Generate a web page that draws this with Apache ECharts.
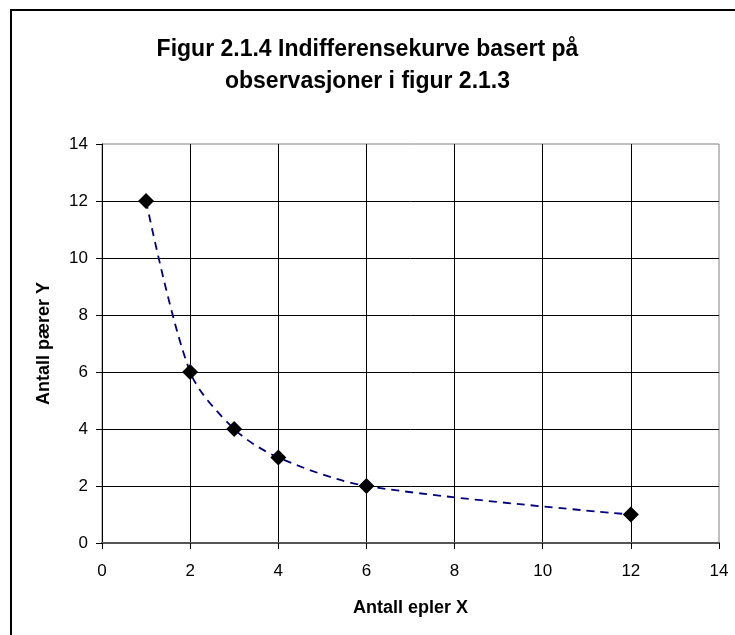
<!DOCTYPE html>
<html>
<head>
<meta charset="utf-8">
<script src="https://cdn.jsdelivr.net/npm/echarts@6/dist/echarts.min.js"></script>
<style>
html, body { margin: 0; padding: 0; background: #fff; }
#chart { width: 735px; height: 635px; }
</style>
</head>
<body>
<div id="chart"></div>
<script>
var epler = [1, 2, 3, 4, 6, 12];
var paerer = [12, 6, 4, 3, 2, 1];
var xTicks = [0, 2, 4, 6, 8, 10, 12, 14];
var yTicks = [0, 2, 4, 6, 8, 10, 12, 14];

var myChart = echarts.init(document.getElementById('chart'));

var points = epler.map(function (x, i) { return [x, paerer[i]]; });

option = {
    animation: false,
    backgroundColor: '#fff',
    textStyle: { fontFamily: 'Liberation Sans, Arial, sans-serif' },
    title: {
        text: 'Figur 2.1.4 Indifferensekurve basert på\nobservasjoner i figur 2.1.3',
        left: 'center',
        top: 29,
        textStyle: {
            fontSize: 23,
            fontWeight: 'bold',
            color: '#000',
            lineHeight: 32,
            fontFamily: 'Liberation Sans, Arial, sans-serif'
        }
    },
    graphic: [{
        type: 'rect',
        shape: { x: 11, y: 10, width: 760, height: 660 },
        style: { fill: 'none', stroke: '#000', lineWidth: 2 },
        silent: true
    }],
    grid: {
        left: 102,
        right: 16,
        top: 144,
        bottom: 92,
        show: true,
        borderColor: '#808080',
        borderWidth: 1
    },
    xAxis: {
        type: 'value',
        min: xTicks[0],
        max: xTicks[xTicks.length - 1],
        interval: 2,
        name: 'Antall epler X',
        nameLocation: 'middle',
        nameGap: 56,
        nameTextStyle: { fontSize: 18, fontWeight: 'bold', color: '#000' },
        axisLine: { show: true, lineStyle: { color: '#555', width: 2 } },
        axisTick: { show: true, inside: false, length: 6, lineStyle: { color: '#000' } },
        axisLabel: { fontSize: 17, color: '#000', margin: 20 },
        splitLine: { show: true, showMinLine: false, showMaxLine: false, lineStyle: { color: '#000', width: 1 } }
    },
    yAxis: {
        type: 'value',
        min: yTicks[0],
        max: yTicks[yTicks.length - 1],
        interval: 2,
        name: 'Antall pærer Y',
        nameLocation: 'middle',
        nameGap: 49,
        nameTextStyle: { fontSize: 18, fontWeight: 'bold', color: '#000' },
        axisLine: { show: true, lineStyle: { color: '#000', width: 1 } },
        axisTick: { show: true, inside: false, length: 6, lineStyle: { color: '#000' } },
        axisLabel: { fontSize: 17, color: '#000', margin: 14 },
        splitLine: { show: true, showMinLine: false, showMaxLine: false, lineStyle: { color: '#000', width: 1 } }
    },
    series: [{
        type: 'line',
        data: points,
        smooth: 0.3,
        symbol: 'diamond',
        symbolSize: 16,
        itemStyle: { color: '#000' },
        lineStyle: { color: '#000080', width: 1.8, type: [8, 6] },
        z: 3
    }]
};

myChart.setOption(option);
</script>
</body>
</html>
